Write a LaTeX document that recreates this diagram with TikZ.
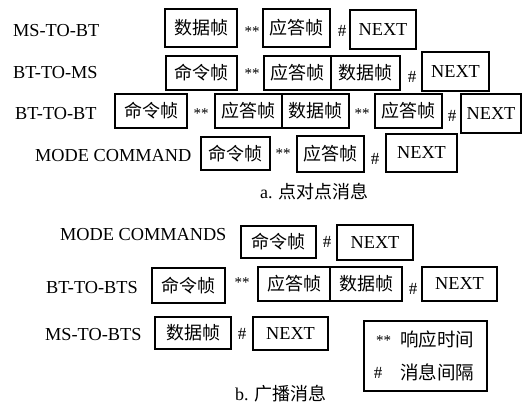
\documentclass[tikz,border=0pt]{standalone}
\usepackage{fontspec}
\setmainfont{Liberation Serif}
\newfontfamily\cjk{Noto Sans CJK SC}
\newcommand\fbx[7][fb]{\node[#1, minimum width={#5-#3}, minimum height={#6-#4}] (#2) at ({(#3+#5)/2},{(#4+#6)/2}) {#7};}
\begin{document}
\begin{tikzpicture}[x=1pt,y=-1pt,
  fb/.style={draw, line width=1.1pt, inner sep=0pt, outer sep=0pt, font=\cjk\fontsize{18}{20}\selectfont},
  nx/.style={fb, font=\fontsize{18.3}{20}\selectfont},
  lbl/.style={anchor=west, inner sep=0pt, font=\fontsize{18.3}{20}\selectfont},
  ast/.style={anchor=north, inner sep=0pt, font=\fontsize{15}{16}\selectfont},
  hsh/.style={inner sep=0pt, font=\fontsize{17}{18}\selectfont},
  captxt/.style={inner sep=0pt, font=\fontsize{18}{19}\selectfont}]
\useasboundingbox (0,0) rectangle (523,405);
% row 1
\node[lbl] (l1) at (13,31) {MS-TO-BT};
\fbx{b11}{165}{9}{237}{47}{数据帧}
\node[ast] (a11) at (252,26) {**};
\fbx{b12}{263}{9}{330}{47}{应答帧}
\node[hsh] (h1) at (342,31) {\#};
\fbx[nx]{b13}{350}{10}{416}{49}{NEXT}
% row 2
\node[lbl] (l2) at (13,73) {BT-TO-MS};
\fbx{b21}{166}{56}{237}{90}{命令帧}
\node[ast] (a21) at (252,68) {**};
\fbx{b22}{264}{56}{331}{90}{应答帧}
\fbx{b23}{331}{56}{400}{90}{数据帧}
\node[hsh] (h2) at (412,77) {\#};
\fbx[nx]{b24}{422}{52}{489}{91}{NEXT}
% row 3
\node[lbl] (l3) at (15,114) {BT-TO-BT};
\fbx{b31}{115}{94}{187}{128}{命令帧}
\node[ast] (a31) at (201,108) {**};
\fbx{b32}{215}{94}{282}{128}{应答帧}
\fbx{b33}{282}{94}{349}{128}{数据帧}
\node[ast] (a32) at (362,108) {**};
\fbx{b34}{375}{94}{442}{128}{应答帧}
\node[hsh] (h3) at (452,115.5) {\#};
\fbx[nx]{b35}{461}{94}{521}{133}{NEXT}
% row 4
\node[lbl] (l4) at (35,156) {MODE COMMAND};
\fbx{b41}{201}{137}{270}{170}{命令帧}
\node[ast] (a41) at (283,148) {**};
\fbx{b42}{297}{136}{364}{172}{应答帧}
\node[hsh] (h4) at (375,159) {\#};
\fbx[nx]{b43}{386}{134}{457}{172}{NEXT}
\node[captxt, anchor=west] (ca) at (260,192) {a. {\cjk 点对点消息}};
% row 5
\node[lbl] (l5) at (60,235) {MODE COMMANDS};
\fbx{b51}{241}{226}{316}{258}{命令帧}
\node[hsh] (h5) at (327,241.5) {\#};
\fbx[nx]{b52}{337}{225}{413}{260}{NEXT}
% row 6
\node[lbl] (l6) at (46,288) {BT-TO-BTS};
\fbx{b61}{152}{268}{225}{303}{命令帧}
\node[ast] (a61) at (242,277) {**};
\fbx{b62}{258}{267}{330}{301}{应答帧}
\fbx{b63}{330}{267}{402}{301}{数据帧}
\node[hsh] (h6) at (413,289) {\#};
\fbx[nx]{b64}{422}{267}{497}{301}{NEXT}
% row 7
\node[lbl] (l7) at (45,335) {MS-TO-BTS};
\fbx{b71}{155}{317}{231}{349}{数据帧}
\node[hsh] (h7) at (242,334) {\#};
\fbx[nx]{b72}{253}{317}{328}{350}{NEXT}
% legend
\fbx{lg}{364}{321}{487}{391}{}
\node[ast] (la) at (383.5,335) {**};
\node[inner sep=0pt, anchor=west, font=\cjk\fontsize{18.5}{20}\selectfont] (lt1) at (400,339) {响应时间};
\node[hsh] (lh) at (378,372.5) {\#};
\node[inner sep=0pt, anchor=west, font=\cjk\fontsize{18.5}{20}\selectfont] (lt2) at (400,372) {消息间隔};
\node[captxt, anchor=west] (cb) at (235,394) {b. {\cjk 广播消息}};
\end{tikzpicture}
\end{document}
